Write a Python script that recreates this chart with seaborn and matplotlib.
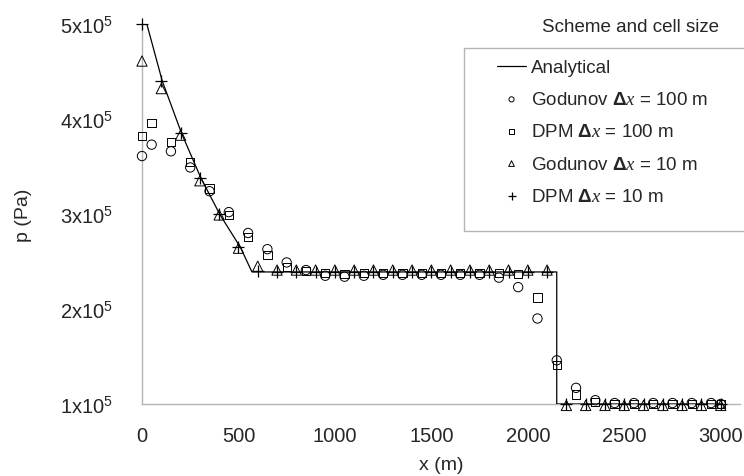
import numpy as np
import pandas as pd
import matplotlib
matplotlib.use("Agg")
import matplotlib.pyplot as plt
import matplotlib.patches as mpatches
import seaborn as sns

# analytical solution (x in m, p in 1e5 Pa)
x_exact = [0, 25, 105, 205, 305, 405, 510, 570, 2150, 2150, 3000]
p_exact = [5.0, 5.0, 4.40, 3.85, 3.38, 2.99, 2.65, 2.39, 2.39, 1.0, 1.0]

# coarse grid (100 m) results, boundaries + cell centres
x_coarse = [0, 50, 150, 250, 350, 450, 550, 650, 750, 850, 950, 1050, 1150, 1250,
            1350, 1450, 1550, 1650, 1750, 1850, 1950, 2050, 2150, 2250, 2350,
            2450, 2550, 2650, 2750, 2850, 2950, 3000]
p_god100 = [3.61, 3.73, 3.66, 3.49, 3.24, 3.02, 2.80, 2.63, 2.49, 2.41, 2.35, 2.34,
            2.35, 2.36, 2.36, 2.36, 2.36, 2.36, 2.36, 2.33, 2.23, 1.90, 1.46, 1.17,
            1.04, 1.01, 1.01, 1.01, 1.01, 1.01, 1.01, 1.0]
p_dpm100 = [3.82, 3.96, 3.76, 3.55, 3.27, 2.99, 2.76, 2.57, 2.44, 2.40, 2.38, 2.37,
            2.38, 2.38, 2.38, 2.38, 2.38, 2.38, 2.38, 2.38, 2.37, 2.12, 1.41, 1.10,
            1.02, 1.0, 1.0, 1.0, 1.0, 1.0, 1.0, 1.0]

# fine grid (10 m) results, shown every 100 m
x_fine = [0, 100, 200, 300, 400, 500, 600, 700, 800, 900, 1000, 1100, 1200, 1300,
          1400, 1500, 1600, 1700, 1800, 1900, 2000, 2100, 2200, 2300, 2400, 2500,
          2600, 2700, 2800, 2900, 3000]
p_god10 = [4.61, 4.32, 3.83, 3.35, 2.99, 2.64, 2.45, 2.41, 2.41, 2.41, 2.41, 2.41,
           2.41, 2.41, 2.41, 2.41, 2.41, 2.41, 2.41, 2.41, 2.41, 2.41, 0.985, 0.985,
           0.985, 0.985, 0.985, 0.985, 0.985, 0.985, 0.985]
p_dpm10 = [5.0, 4.40, 3.85, 3.38, 3.00, 2.65, 2.40, 2.39, 2.39, 2.39, 2.39, 2.39,
           2.39, 2.39, 2.39, 2.39, 2.39, 2.39, 2.39, 2.39, 2.39, 2.39, 1.0, 1.0,
           1.0, 1.0, 1.0, 1.0, 1.0, 1.0, 1.0]

sns.set_style("white")
plt.rcParams['font.family'] = ['Liberation Sans', 'DejaVu Sans']
plt.rcParams['mathtext.fontset'] = 'custom'
plt.rcParams['mathtext.rm'] = 'Liberation Sans'
plt.rcParams['mathtext.it'] = 'Liberation Serif:italic'
plt.rcParams['mathtext.bf'] = 'Liberation Sans:bold'
plt.rcParams['mathtext.default'] = 'regular'

fig = plt.figure(figsize=(7.44, 4.77), dpi=100)
ax = fig.add_axes([142 / 744, 1 - 405 / 477, 598 / 744, 380 / 477])

df_exact = pd.DataFrame({"x": x_exact, "p": np.array(p_exact) * 1e5})
sns.lineplot(data=df_exact, x="x", y="p", ax=ax, color="black", lw=0.9,
             sort=False, estimator=None, label="Analytical", zorder=3)

series = [
    (x_coarse, p_god100, "o", 45, r"Godunov $\mathbf{\Delta}\mathit{x}$ = 100 m"),
    (x_coarse, p_dpm100, "s", 36, r"DPM $\mathbf{\Delta}\mathit{x}$ = 100 m"),
    (x_fine, p_god10, "^", 55, r"Godunov $\mathbf{\Delta}\mathit{x}$ = 10 m"),
    (x_fine, p_dpm10, "+", 85, r"DPM $\mathbf{\Delta}\mathit{x}$ = 10 m"),
]
for xs, ps, mk, sz, lab in series:
    d = pd.DataFrame({"x": xs, "p": np.array(ps) * 1e5})
    if mk == "+":
        sns.scatterplot(data=d, x="x", y="p", ax=ax, marker=mk, s=sz, color="black",
                        linewidth=0.9, label=lab, clip_on=False, zorder=4)
    else:
        sns.scatterplot(data=d, x="x", y="p", ax=ax, marker=mk, s=sz, facecolor="none",
                        edgecolor="black", linewidth=0.7, label=lab, clip_on=False, zorder=4)

ax.set_xlim(0, 3100)
ax.set_ylim(1e5, 5e5)
ax.set_xticks([0, 500, 1000, 1500, 2000, 2500, 3000])
ax.set_yticks([1e5, 2e5, 3e5, 4e5, 5e5])
ax.set_yticklabels([r"%dx10$^{5}$" % i for i in range(1, 6)])
ax.tick_params(axis="both", labelsize=14.5, length=5, width=0.6, color="#d8d8d8",
               direction="out")
ax.tick_params(axis="x", pad=11)
ax.tick_params(axis="y", pad=16)

for side in ["top", "right"]:
    ax.spines[side].set_visible(False)
for side in ["left", "bottom"]:
    ax.spines[side].set_color("#b4b4b4")
    ax.spines[side].set_linewidth(1.0)

ax.set_xlabel("x (m)", fontsize=14, labelpad=8)
ax.set_ylabel("p (Pa)", fontsize=14, labelpad=20)

h, l = ax.get_legend_handles_labels()
ax.legend(h, l, loc="upper left", bbox_to_anchor=(497 / 744, 1 - 60 / 477),
          bbox_transform=fig.transFigure, frameon=False, fontsize=13.5,
          borderpad=0, borderaxespad=0, handlelength=1.55, handletextpad=0.25,
          labelspacing=0.8, markerscale=0.55)
fig.patches.append(mpatches.Rectangle((464 / 744, 1 - 232 / 477), 300 / 744, 183 / 477,
                                      transform=fig.transFigure, fill=False,
                                      edgecolor="#b4b4b4", lw=1.0))
fig.text(630 / 744, 1 - 28 / 477, "Scheme and cell size", fontsize=13.5,
         ha="center", va="center")

fig.savefig("out.png", dpi=100)
